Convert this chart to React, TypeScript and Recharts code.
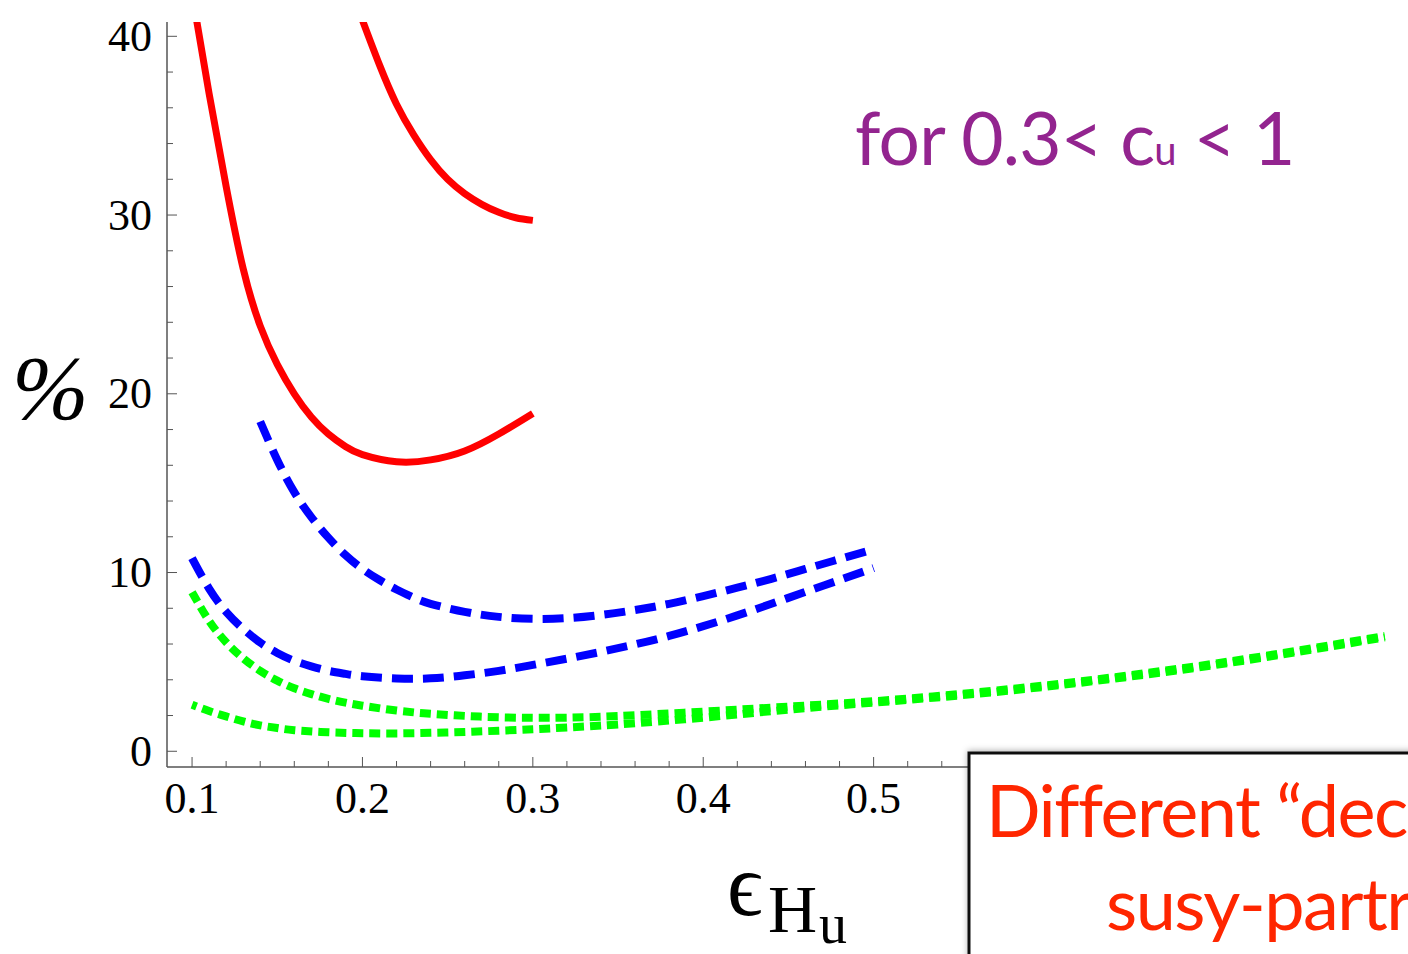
import React from 'react';
import { LineChart, Line, XAxis, YAxis } from 'recharts';

type Pt = { x: number; y: number };

// axis ticks (frame ticks on all four sides, Mathematica style)
const X_MAJOR = [0.1, 0.2, 0.3, 0.4, 0.5, 0.6, 0.7, 0.8];
const X_LABELS = [0.1, 0.2, 0.3, 0.4, 0.5]; // the rest sit under the slide box
const X_TICKS = [
  0.1, 0.12, 0.14, 0.16, 0.18, 0.2, 0.22, 0.24, 0.26, 0.28, 0.3, 0.32, 0.34, 0.36, 0.38,
  0.4, 0.42, 0.44, 0.46, 0.48, 0.5, 0.52, 0.54, 0.56, 0.58, 0.6, 0.62, 0.64, 0.66, 0.68,
  0.7, 0.72, 0.74, 0.76, 0.78, 0.8,
];
const Y_MAJOR = [0, 10, 20, 30, 40];
const Y_TICKS = [0, 2, 4, 6, 8, 10, 12, 14, 16, 18, 20, 22, 24, 26, 28, 30, 32, 34, 36, 38, 40];

// solid red curves
const RED_UPPER: Pt[] = [
  { x: 0.2, y: 40.9 }, { x: 0.21, y: 38.4 }, { x: 0.22, y: 36.2 }, { x: 0.23, y: 34.5 },
  { x: 0.24, y: 33.1 }, { x: 0.25, y: 32.0 }, { x: 0.26, y: 31.2 }, { x: 0.27, y: 30.6 },
  { x: 0.28, y: 30.15 }, { x: 0.29, y: 29.85 }, { x: 0.3, y: 29.7 },
];
const RED_LOWER: Pt[] = [
  { x: 0.1, y: 42.4 }, { x: 0.11, y: 36.8 }, { x: 0.12, y: 31.6 }, { x: 0.13, y: 27.0 },
  { x: 0.14, y: 23.8 }, { x: 0.15, y: 21.65 }, { x: 0.16, y: 20.0 }, { x: 0.17, y: 18.7 },
  { x: 0.18, y: 17.75 }, { x: 0.19, y: 17.05 }, { x: 0.2, y: 16.6 }, { x: 0.22, y: 16.2 },
  { x: 0.24, y: 16.3 }, { x: 0.26, y: 16.8 }, { x: 0.28, y: 17.75 }, { x: 0.3, y: 18.9 },
];

// dashed blue curves
const BLUE_UPPER: Pt[] = [
  { x: 0.14, y: 18.45 }, { x: 0.15, y: 16.3 }, { x: 0.16, y: 14.5 }, { x: 0.17, y: 13.1 },
  { x: 0.18, y: 11.95 }, { x: 0.19, y: 10.98 }, { x: 0.2, y: 10.2 }, { x: 0.21, y: 9.58 },
  { x: 0.22, y: 9.05 }, { x: 0.23, y: 8.6 }, { x: 0.24, y: 8.25 }, { x: 0.26, y: 7.8 },
  { x: 0.28, y: 7.52 }, { x: 0.3, y: 7.41 }, { x: 0.32, y: 7.45 }, { x: 0.34, y: 7.63 },
  { x: 0.36, y: 7.9 }, { x: 0.38, y: 8.25 }, { x: 0.4, y: 8.68 }, { x: 0.42, y: 9.15 },
  { x: 0.44, y: 9.65 }, { x: 0.46, y: 10.2 }, { x: 0.48, y: 10.75 }, { x: 0.5, y: 11.3 },
];
const BLUE_LOWER: Pt[] = [
  { x: 0.1, y: 10.8 }, { x: 0.11, y: 9.1 }, { x: 0.12, y: 7.8 }, { x: 0.13, y: 6.85 },
  { x: 0.14, y: 6.08 }, { x: 0.15, y: 5.5 }, { x: 0.16, y: 5.06 }, { x: 0.17, y: 4.75 },
  { x: 0.18, y: 4.5 }, { x: 0.19, y: 4.33 }, { x: 0.2, y: 4.2 }, { x: 0.22, y: 4.07 },
  { x: 0.24, y: 4.08 }, { x: 0.26, y: 4.25 }, { x: 0.28, y: 4.5 }, { x: 0.3, y: 4.83 },
  { x: 0.32, y: 5.18 }, { x: 0.34, y: 5.56 }, { x: 0.36, y: 5.98 }, { x: 0.38, y: 6.45 },
  { x: 0.4, y: 7.0 }, { x: 0.42, y: 7.6 }, { x: 0.44, y: 8.25 }, { x: 0.46, y: 8.92 },
  { x: 0.48, y: 9.58 }, { x: 0.5, y: 10.25 },
];

// dotted green curves
const GREEN_UPPER: Pt[] = [
  { x: 0.1, y: 8.9 }, { x: 0.11, y: 7.3 }, { x: 0.12, y: 6.1 }, { x: 0.13, y: 5.2 },
  { x: 0.14, y: 4.5 }, { x: 0.15, y: 3.95 }, { x: 0.16, y: 3.52 }, { x: 0.17, y: 3.2 },
  { x: 0.18, y: 2.93 }, { x: 0.19, y: 2.72 }, { x: 0.2, y: 2.55 }, { x: 0.22, y: 2.28 },
  { x: 0.24, y: 2.1 }, { x: 0.26, y: 1.98 }, { x: 0.28, y: 1.9 }, { x: 0.3, y: 1.87 },
  { x: 0.32, y: 1.88 }, { x: 0.35, y: 1.97 }, { x: 0.4, y: 2.22 }, { x: 0.45, y: 2.5 },
  { x: 0.5, y: 2.8 }, { x: 0.55, y: 3.2 }, { x: 0.6, y: 3.68 }, { x: 0.65, y: 4.25 },
  { x: 0.7, y: 4.9 }, { x: 0.75, y: 5.65 }, { x: 0.8, y: 6.45 },
];
const GREEN_LOWER: Pt[] = [
  { x: 0.1, y: 2.6 }, { x: 0.11, y: 2.25 }, { x: 0.12, y: 1.95 }, { x: 0.13, y: 1.67 },
  { x: 0.14, y: 1.45 }, { x: 0.15, y: 1.3 }, { x: 0.16, y: 1.18 }, { x: 0.18, y: 1.06 },
  { x: 0.2, y: 1.01 }, { x: 0.22, y: 1.0 }, { x: 0.24, y: 1.03 }, { x: 0.26, y: 1.08 },
  { x: 0.28, y: 1.15 }, { x: 0.3, y: 1.23 }, { x: 0.32, y: 1.33 }, { x: 0.35, y: 1.5 },
  { x: 0.4, y: 1.88 }, { x: 0.45, y: 2.33 }, { x: 0.5, y: 2.72 }, { x: 0.55, y: 3.12 },
  { x: 0.6, y: 3.6 }, { x: 0.65, y: 4.17 }, { x: 0.7, y: 4.82 }, { x: 0.75, y: 5.57 },
  { x: 0.8, y: 6.37 },
];

const X_DOMAIN: [number, number] = [0.0853, 0.8142];
const Y_DOMAIN: [number, number] = [-0.88, 40.8];

const FRAME = '#555';
const SERIF = '"Liberation Serif", "Times New Roman", serif';
const SANS = 'Lato, "Open Sans", sans-serif';

const has = (list: number[], v: number) => list.some((m) => Math.abs(m - v) < 1e-6);

function BottomTick(props: any) {
  const { x, y, payload } = props;
  const major = has(X_MAJOR, payload.value);
  return (
    <g>
      <line x1={x} x2={x} y1={y} y2={y - (major ? 10 : 6)} stroke={FRAME} />
      {has(X_LABELS, payload.value) && (
        <text x={x} y={y + 46} textAnchor="middle" fontFamily={SERIF} fontSize={44} fill="#000">
          {payload.value.toFixed(1)}
        </text>
      )}
    </g>
  );
}

function TopTick(props: any) {
  const { x, y, payload } = props;
  const major = has(X_MAJOR, payload.value);
  return <line x1={x} x2={x} y1={y} y2={y + (major ? 10 : 6)} stroke={FRAME} />;
}

function LeftTick(props: any) {
  const { x, y, payload } = props;
  const major = has(Y_MAJOR, payload.value);
  return (
    <g>
      <line x1={x} x2={x + (major ? 10 : 6)} y1={y} y2={y} stroke={FRAME} />
      {major && (
        <text x={x - 15} y={y} dy="0.33em" textAnchor="end" fontFamily={SERIF} fontSize={44} fill="#000">
          {payload.value}
        </text>
      )}
    </g>
  );
}

function RightTick(props: any) {
  const { x, y, payload } = props;
  const major = has(Y_MAJOR, payload.value);
  return <line x1={x} x2={x - (major ? 10 : 6)} y1={y} y2={y} stroke={FRAME} />;
}

const dotted = { stroke: '#00ff00', strokeWidth: 8, strokeDasharray: '11 6' };
const dashed = { stroke: '#0000ff', strokeWidth: 8, strokeDasharray: '21 10' };
const solid = { stroke: '#ff0000', strokeWidth: 7 };

export default function App() {
  return (
    <div style={{ position: 'fixed', left: 0, top: 0, width: 1408, height: 954, overflow: 'hidden', background: '#fff' }}>
      <LineChart width={1420} height={954} margin={{ top: 22, right: 11, bottom: 127, left: 0 }}>
        <XAxis
          xAxisId="bottom"
          orientation="bottom"
          type="number"
          dataKey="x"
          domain={X_DOMAIN}
          allowDataOverflow
          ticks={X_TICKS}
          interval={0}
          height={60}
          tickSize={0}
          tickMargin={0}
          tickLine={false}
          axisLine={{ stroke: FRAME, strokeWidth: 1.5 }}
          tick={<BottomTick />}
        />
        <XAxis
          xAxisId="top"
          orientation="top"
          type="number"
          dataKey="x"
          domain={X_DOMAIN}
          allowDataOverflow
          ticks={X_TICKS}
          interval={0}
          height={0}
          tickSize={0}
          tickMargin={0}
          tickLine={false}
          axisLine={{ stroke: '#222', strokeWidth: 1.5 }}
          tick={<TopTick />}
        />
        <YAxis
          yAxisId="left"
          orientation="left"
          type="number"
          domain={Y_DOMAIN}
          allowDataOverflow
          ticks={Y_TICKS}
          interval={0}
          width={167}
          tickSize={0}
          tickMargin={0}
          tickLine={false}
          axisLine={{ stroke: FRAME, strokeWidth: 1.5 }}
          tick={<LeftTick />}
        />
        <YAxis
          yAxisId="right"
          orientation="right"
          type="number"
          domain={Y_DOMAIN}
          allowDataOverflow
          ticks={Y_TICKS}
          interval={0}
          width={0}
          tickSize={0}
          tickMargin={0}
          tickLine={false}
          axisLine={{ stroke: FRAME, strokeWidth: 1.5 }}
          tick={<RightTick />}
        />

        <Line xAxisId="top" yAxisId="right" data={GREEN_LOWER} dataKey="y" type="natural" {...dotted}
          strokeDashoffset={6.2} dot={false} isAnimationActive={false} />
        <Line xAxisId="top" yAxisId="right" data={GREEN_UPPER} dataKey="y" type="natural" {...dotted}
          dot={false} isAnimationActive={false} />
        <Line xAxisId="bottom" yAxisId="left" data={BLUE_LOWER} dataKey="y" type="natural" {...dashed}
          dot={false} isAnimationActive={false} />
        <Line xAxisId="bottom" yAxisId="left" data={BLUE_UPPER} dataKey="y" type="natural" {...dashed}
          dot={false} isAnimationActive={false} />
        <Line xAxisId="bottom" yAxisId="left" data={RED_LOWER} dataKey="y" type="natural" {...solid}
          dot={false} isAnimationActive={false} />
        <Line xAxisId="bottom" yAxisId="left" data={RED_UPPER} dataKey="y" type="natural" {...solid}
          dot={false} isAnimationActive={false} />
      </LineChart>

      <svg width={1408} height={954} style={{ position: 'absolute', left: 0, top: 0, pointerEvents: 'none' }}>
        <defs>
          <filter id="boxShadow" x="-10%" y="-20%" width="130%" height="150%">
            <feDropShadow dx="0" dy="-1" stdDeviation="3" floodColor="#000" floodOpacity="0.3" />
          </filter>
        </defs>

        {/* y label */}
        <text x={12} y={419} fontFamily={SERIF} fontStyle="italic" fontSize={92} fill="#000">%</text>

        {/* x label */}
        <text x={727} y={915} fontFamily={SERIF} fontSize={88} fill="#000">ϵ</text>
        <text x={768} y={932} fontFamily={SERIF} fontSize={68} fill="#000">H</text>
        <text x={819} y={943} fontFamily={SERIF} fontSize={56} fill="#000">u</text>

        {/* annotation */}
        <text x={855} y={165} fontFamily={SANS} fontSize={73} letterSpacing={-0.8} fill="#93248f" style={{ whiteSpace: 'pre' }}>
          for 0.3&lt; c<tspan fontSize={40}>u</tspan><tspan> &lt; 1</tspan>
        </text>

        {/* overlapping slide box */}
        <rect x={969} y={753} width={520} height={260} fill="#fff" stroke="#111" strokeWidth={3} filter="url(#boxShadow)" />
        <text x={986} y={837} fontFamily={SANS} fontSize={72} letterSpacing={-1.5} fill="#ff2600" style={{ whiteSpace: 'pre' }}>
          Different “dec
        </text>
        <text x={1106} y={930} fontFamily={SANS} fontSize={72} letterSpacing={-1.5} fill="#ff2600">
          susy-partr
        </text>
      </svg>
    </div>
  );
}
